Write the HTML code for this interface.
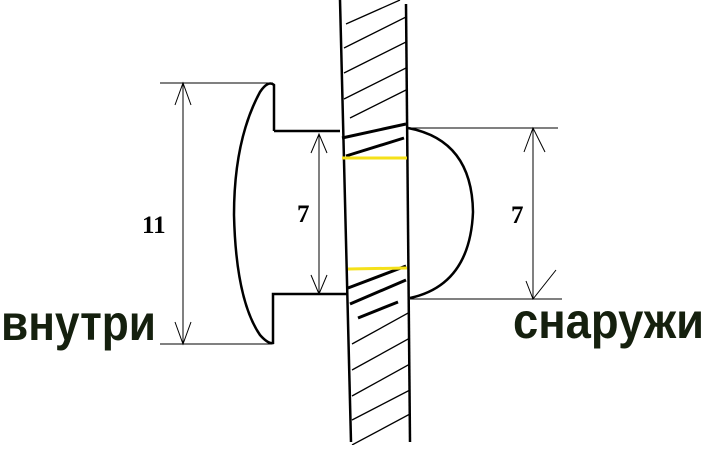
<!DOCTYPE html>
<html><head><meta charset="utf-8"><style>
html,body{margin:0;padding:0;background:#fff}
svg{display:block}
</style></head><body>
<svg width="720" height="450" viewBox="0 0 720 450" xmlns="http://www.w3.org/2000/svg">
<defs>
<clipPath id="wall"><polygon points="340,0 406,0 410,445 351,445"/></clipPath>
</defs>
<rect width="720" height="450" fill="#fff"/>
<g clip-path="url(#wall)" stroke="#000" stroke-width="1.3">
<line x1="344" y1="48" x2="410" y2="15"/>
<line x1="344" y1="73" x2="410" y2="40"/>
<line x1="344" y1="99" x2="410" y2="66"/>
<line x1="350" y1="118" x2="406" y2="90"/>
<line x1="352" y1="344" x2="410" y2="312"/>
<line x1="352" y1="370" x2="410" y2="338"/>
<line x1="352" y1="396" x2="410" y2="364"/>
<line x1="352" y1="420" x2="410" y2="390"/>
<line x1="352" y1="445" x2="410" y2="414"/>
<line x1="346" y1="24" x2="400" y2="0"/>
</g>
<g stroke="#000" stroke-width="3" fill="none">
<line x1="342" y1="138" x2="406" y2="124"/>
<line x1="346" y1="156" x2="404" y2="138"/>
<line x1="348" y1="288" x2="406" y2="266"/>
<line x1="350" y1="304" x2="406" y2="280"/>
<line x1="358" y1="318" x2="398" y2="302"/>
<line x1="340" y1="0" x2="351" y2="442" stroke-width="2.5"/>
<line x1="406" y1="4" x2="410" y2="442" stroke-width="2.5"/>
<path d="M274,131 L274,85 Q268,80 260,92 Q234,140 234,215 Q236,300 260,335 Q268,344 273,343 L273,294 L347,294" stroke-width="2.5"/>
<line x1="274" y1="131" x2="340" y2="131" stroke-width="2.5"/>
<path d="M408,128 Q472,140 473,212 Q470,285 410,298" stroke-width="2.5"/>
</g>
<g stroke="#f5e11a" stroke-width="3">
<line x1="342" y1="158" x2="407" y2="158"/>
<line x1="348" y1="269" x2="407" y2="268"/>
</g>
<g stroke="#000" stroke-width="1" fill="none">
<line x1="160" y1="83" x2="273" y2="83"/>
<line x1="160" y1="344" x2="272" y2="344"/>
<line x1="183" y1="83" x2="183" y2="344"/>
<polyline points="175,105 183,83 191,105"/>
<polyline points="175,322 183,344 191,322"/>
<line x1="319" y1="134" x2="319" y2="294"/>
<polyline points="311,153 319,134 327,153"/>
<polyline points="311,275 319,294 327,275"/>
<line x1="408" y1="128" x2="558" y2="128"/>
<line x1="410" y1="299" x2="562" y2="299"/>
<line x1="533" y1="128" x2="533" y2="299"/>
<polyline points="524,152 533,128 545,152"/>
<polyline points="526,281 533,299 556,270"/>
</g>
<g font-family="Liberation Serif, serif" font-weight="bold" font-size="25" fill="#000">
<text x="142" y="233">11</text>
<text x="297" y="222">7</text>
<text x="511" y="223">7</text>
</g>
<g font-family="Liberation Sans, sans-serif" font-weight="bold" font-size="50" fill="#15200e">
<text x="1" y="340" textLength="155" lengthAdjust="spacingAndGlyphs">внутри</text>
<text x="513" y="338" textLength="191" lengthAdjust="spacingAndGlyphs">снаружи</text>
</g>
</svg>
</body></html>
